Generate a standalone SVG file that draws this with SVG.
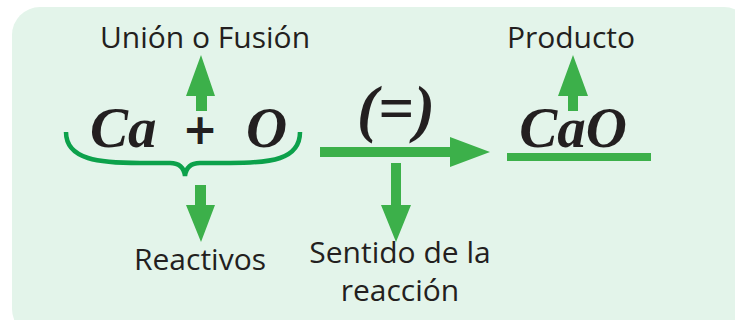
<svg xmlns="http://www.w3.org/2000/svg" width="735" height="320" viewBox="0 0 735 320">
<style>
.lbl{font-family:"Open Sans","Noto Sans",sans-serif;font-size:30px;fill:#231f20;text-anchor:middle}
.f{font-family:"Liberation Serif","DejaVu Serif",serif;font-weight:bold;font-style:italic;fill:#231f20;font-size:57px}
.ar{fill:#3cb04a}
</style>
<rect x="12" y="7" width="740" height="330" rx="28" fill="#e3f4ea"/>
<g id="reactants">
<text class="f" x="90" y="147">Ca</text>
<text x="200" y="144" text-anchor="middle" font-family="DejaVu Sans" font-weight="bold" font-style="italic" font-size="42" fill="#231f20">+</text>
<text class="f" x="246" y="147">O</text>
<path d="M66,132 C66,160 100,163 140,163 L170,163 C180,163 184,168 185,176 C186,168 190,163 200,163 L230,163 C270,163 300,160 300,132" fill="none" stroke="#0ca14b" stroke-width="4.5"/>
</g>
<g id="equals"><text class="f" x="396" y="130" text-anchor="middle" style="font-size:63px">(=)</text></g>
<g id="product">
<text class="f" x="573" y="147" text-anchor="middle">CaO</text>
<rect x="507" y="153" width="144" height="8" fill="#3cb04a"/>
</g>
<g id="union"><text class="lbl" x="205" y="48">Unión o Fusión</text></g>
<g id="reactivos"><text class="lbl" x="200" y="270">Reactivos</text></g>
<g id="sentido"><text class="lbl" x="400" y="263">Sentido de la</text><text class="lbl" x="400" y="301">reacción</text></g>
<g id="producto"><text class="lbl" x="571" y="48">Producto</text></g>
<g id="connectors">
<polygon class="ar" points="196,111 207,111 207,96 215,96 201,55 186,96 196,96"/>
<polygon class="ar" points="195,185 206,185 206,205 215,205 201,242 186,205 195,205"/>
<polygon class="ar" points="320,147 450,147 450,137 490,152 450,167 450,157 320,157"/>
<polygon class="ar" points="391,163 401,163 401,205 411,205 396,242 381,205 391,205"/>
<polygon class="ar" points="568,111 578,111 578,96 588,96 573,55 558,96 568,96"/>
</g>
</svg>
